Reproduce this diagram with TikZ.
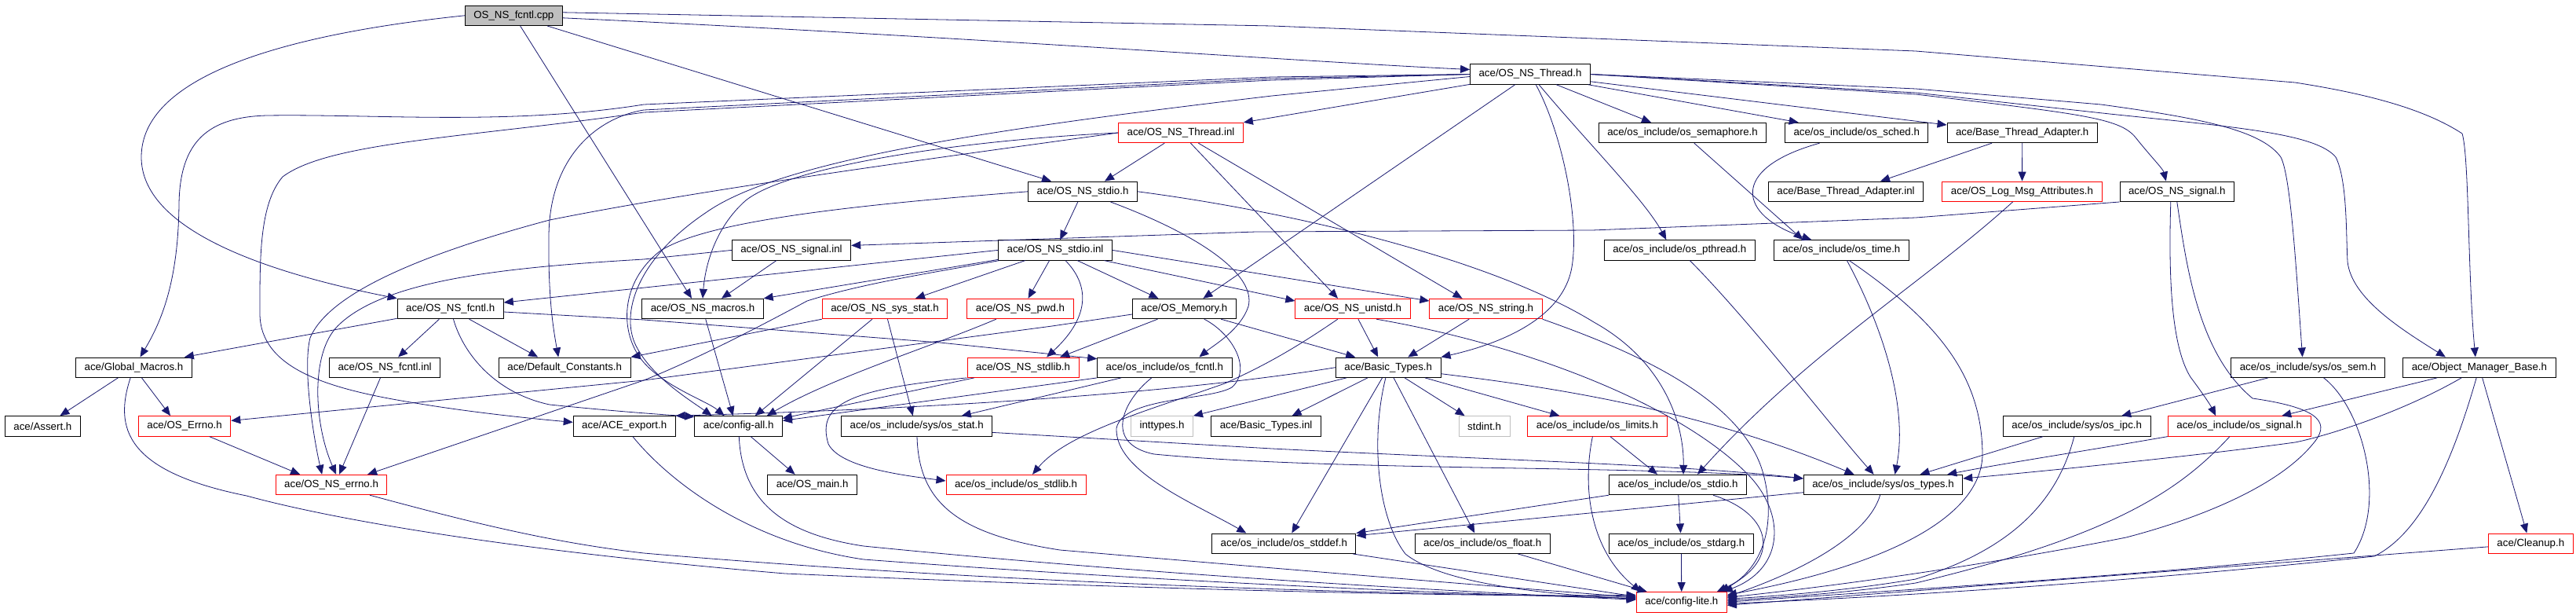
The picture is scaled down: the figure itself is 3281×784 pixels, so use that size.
\documentclass[tikz,border=0pt]{standalone}
\usepackage{fontspec}
\setmainfont{Liberation Sans}
\usetikzlibrary{arrows.meta}
\definecolor{depc}{HTML}{191970}
\definecolor{redc}{HTML}{FF0000}
\definecolor{grayc}{HTML}{BFBFBF}
\begin{document}
\begin{tikzpicture}[x=1pt,y=-1pt,
  nbox/.style={draw=black, line width=1pt, rectangle, minimum height=25.4pt, inner xsep=11pt, inner ysep=0pt, fill=white, font=\fontsize{13.3}{15}\selectfont},
  rbox/.style={nbox, draw=redc},
  gbox/.style={nbox, draw=grayc},
  dep/.style={draw=depc, line width=0.8pt, -{Triangle[length=12pt,width=10pt]}}]
\fill[white] (0,0) rectangle (3281,784);
\useasboundingbox (0,0) rectangle (3281,784);
% row 1
\node[nbox, fill=grayc] (cpp) at (654.3,19.8) {OS\_NS\_fcntl.cpp};
% row 2
\node[nbox] (thr) at (1949,94.5) {ace/OS\_NS\_Thread.h};
% row 3
\node[rbox] (thrinl) at (1504,169) {ace/OS\_NS\_Thread.inl};
\node[nbox] (sem) at (2143,169) {ace/os\_include/os\_semaphore.h};
\node[nbox] (sched) at (2364.7,169) {ace/os\_include/os\_sched.h};
\node[nbox] (bta) at (2575.7,169) {ace/Base\_Thread\_Adapter.h};
% row 4
\node[nbox] (stdioh) at (1379,243.8) {ace/OS\_NS\_stdio.h};
\node[nbox] (btainl) at (2351,243.8) {ace/Base\_Thread\_Adapter.inl};
\node[rbox] (logmsg) at (2575.5,243.8) {ace/OS\_Log\_Msg\_Attributes.h};
\node[nbox] (sigh) at (2772.8,243.8) {ace/OS\_NS\_signal.h};
% row 5
\node[nbox] (siginl) at (1008,318.4) {ace/OS\_NS\_signal.inl};
\node[nbox] (stdioinl) at (1344,318.4) {ace/OS\_NS\_stdio.inl};
\node[nbox] (pthread) at (2139.3,318.4) {ace/os\_include/os\_pthread.h};
\node[nbox] (ostime) at (2345.3,318.4) {ace/os\_include/os\_time.h};
% row 6
\node[nbox] (fcntlh) at (573.7,393) {ace/OS\_NS\_fcntl.h};
\node[nbox] (macros) at (895,393) {ace/OS\_NS\_macros.h};
\node[rbox] (sysstat) at (1127,393) {ace/OS\_NS\_sys\_stat.h};
\node[rbox] (pwd) at (1299.5,393) {ace/OS\_NS\_pwd.h};
\node[nbox] (memory) at (1508.4,393) {ace/OS\_Memory.h};
\node[rbox] (unistd) at (1723,393) {ace/OS\_NS\_unistd.h};
\node[rbox] (string) at (1892.5,393) {ace/OS\_NS\_string.h};
% row 7
\node[nbox] (gmacros) at (170.5,467.7) {ace/Global\_Macros.h};
\node[nbox] (fcntlinl) at (490.1,467.7) {ace/OS\_NS\_fcntl.inl};
\node[nbox] (defconst) at (719.2,467.7) {ace/Default\_Constants.h};
\node[rbox] (stdlibh) at (1303.1,467.7) {ace/OS\_NS\_stdlib.h};
\node[nbox] (osfcntl) at (1483.4,467.7) {ace/os\_include/os\_fcntl.h};
\node[nbox] (btypes) at (1768.2,467.7) {ace/Basic\_Types.h};
\node[nbox] (syssem) at (2939.6,467.7) {ace/os\_include/sys/os\_sem.h};
\node[nbox] (omb) at (3157.9,467.7) {ace/Object\_Manager\_Base.h};
% row 8
\node[nbox] (assert) at (54.4,542.4) {ace/Assert.h};
\node[rbox] (oserrno) at (235.1,542.4) {ace/OS\_Errno.h};
\node[nbox] (aceexport) at (795.2,542.4) {ace/ACE\_export.h};
\node[nbox] (configall) at (940.7,542.4) {ace/config-all.h};
\node[nbox] (sysosstat) at (1167.7,542.4) {ace/os\_include/sys/os\_stat.h};
\node[gbox] (inttypes) at (1480,542.4) {inttypes.h};
\node[nbox] (btinl) at (1612.6,542.4) {ace/Basic\_Types.inl};
\node[gbox] (stdint) at (1890.6,542.4) {stdint.h};
\node[rbox] (limits) at (2034.4,542.4) {ace/os\_include/os\_limits.h};
\node[nbox] (sysipc) at (2645.2,542.4) {ace/os\_include/sys/os\_ipc.h};
\node[rbox] (ossignal) at (2852.2,542.4) {ace/os\_include/os\_signal.h};
% row 9
\node[rbox] (nserrno) at (422.1,617) {ace/OS\_NS\_errno.h};
\node[nbox] (osmain) at (1034.6,617) {ace/OS\_main.h};
\node[rbox] (osstdlib) at (1294,617) {ace/os\_include/os\_stdlib.h};
\node[nbox] (osstdio) at (2137,617) {ace/os\_include/os\_stdio.h};
\node[nbox] (systypes) at (2398.5,617) {ace/os\_include/sys/os\_types.h};
% row 10
\node[nbox] (stddef) at (1635.3,691.7) {ace/os\_include/os\_stddef.h};
\node[nbox] (float) at (1888.2,691.7) {ace/os\_include/os\_float.h};
\node[nbox] (stdarg) at (2141.3,691.7) {ace/os\_include/os\_stdarg.h};
\node[rbox] (cleanup) at (3223.3,691.7) {ace/Cleanup.h};
% row 11
\node[rbox] (clite) at (2141.8,766.3) {ace/config-lite.h};

% ---- edges from OS_NS_fcntl.cpp
\draw[dep] (cpp.west) .. controls (350,45) and (180,100) .. (180,200) .. controls (180,290) and (330,345) .. (fcntlh.north west);
\draw[dep] ([yshift=-3pt]cpp.east) .. controls (1200,45) and (1650,78) .. ([yshift=6pt]thr.west);
\draw[dep] ([yshift=4pt]cpp.east) -- (1620,33) -- (2440,65) -- (2923,105) .. controls (3020,120) and (3090,140) .. (3136,170) .. controls (3145,200) and (3143,350) .. ([xshift=-5pt]omb.north);
\draw[dep] (cpp) -- ([xshift=-40pt]stdioh.north);
\draw[dep] (cpp) -- ([xshift=-14pt]macros.north);

% ---- edges from OS_NS_Thread.h
\draw[dep] (thr.west) -- (1620,98) -- (820,133) .. controls (650,160) and (480,145) .. (340,147) .. controls (265,149) and (229,180) .. (228,260) .. controls (227,360) and (205,410) .. ([xshift=8pt]gmacros.north);
\draw[dep] (thr.west) -- (1620,100) -- (820,140) .. controls (760,150) and (700,200) .. (699,300) .. controls (698,380) and (705,420) .. ([xshift=-8pt]defconst.north);
\draw[dep] (thr.west) -- (1620,102) -- (820,143) .. controls (600,175) and (420,180) .. (360,225) .. controls (330,260) and (331,330) .. (331,400) .. controls (332,470) and (420,495) .. (523,512) .. controls (600,525) and (680,533) .. ([yshift=5pt]aceexport.west);
\draw[dep] ([yshift=-3pt]thr.west) -- (1620,122) .. controls (1300,160) and (1000,200) .. (900,270) .. controls (810,330) and (790,400) .. (810,440) .. controls (830,480) and (880,510) .. ([xshift=-34pt]configall.north);
\draw[dep] (thr) -- (thrinl.north east);
\draw[dep] (thr) -- ([xshift=24pt]memory.north);
\draw[dep] (thr) .. controls (1990,170) and (2012,280) .. (2002,340) .. controls (1990,410) and (1900,440) .. (btypes.north east);
\draw[dep] (thr) .. controls (2025,185) and (2095,255) .. ([xshift=-17pt]pthread.north);
\draw[dep] (thr) -- ([xshift=-40pt]sem.north);
\draw[dep] (thr) -- ([xshift=-74pt]sched.north);
\draw[dep] (thr) -- ([yshift=10pt]bta.west);
\draw[dep] (thr.east) -- (2440,120) .. controls (2650,145) and (2700,150) .. (2720,175) .. controls (2740,200) and (2755,215) .. ([xshift=-14pt]sigh.north);
\draw[dep] (thr.east) -- (2440,113) -- (2676,133) .. controls (2800,150) and (2880,165) .. (2905,200) .. controls (2918,225) and (2925,350) .. ([xshift=-7pt]syssem.north);
\draw[dep] (thr.east) -- (2440,118) -- (2687,145) .. controls (2850,162) and (2950,170) .. (2975,200) .. controls (2990,230) and (2988,300) .. (2990,333) .. controls (2995,380) and (3060,420) .. ([xshift=-43pt]omb.north);

% ---- edges from OS_NS_Thread.inl
\draw[dep] (thrinl) -- ([xshift=28pt]stdioh.north);
\draw[dep] (thrinl) -- ([xshift=-19pt]unistd.north);
\draw[dep] (thrinl) -- ([xshift=-30pt]string.north);
\draw[dep] (thrinl.west) .. controls (1200,200) and (900,240) .. (700,280) .. controls (550,320) and (420,370) .. (395,430) .. controls (385,470) and (400,560) .. ([xshift=-12pt]nserrno.north);
\draw[dep] (thrinl.west) .. controls (1200,180) and (1000,215) .. (950,255) .. controls (910,290) and (898,340) .. (macros.north);

% ---- edges from OS_NS_stdio.h
\draw[dep] (stdioh) -- (stdioinl);
\draw[dep] (stdioh.east) .. controls (1650,270) and (1900,330) .. (2030,410) .. controls (2120,460) and (2145,540) .. ([xshift=7pt]osstdio.north);
\draw[dep] (stdioh) .. controls (1530,300) and (1600,350) .. (1590,390) .. controls (1580,420) and (1545,440) .. ([xshift=44pt]osfcntl.north);
\draw[dep] (stdioh.west) .. controls (1100,260) and (900,280) .. (840,320) .. controls (790,360) and (790,420) .. (815,455) .. controls (840,490) and (900,510) .. ([xshift=-18pt]configall.north);

% ---- edges from OS_NS_stdio.inl
\draw[dep] (stdioinl.west) -- ([yshift=8pt]fcntlh.east);
\draw[dep] (stdioinl) -- (macros.north east);
\draw[dep] (stdioinl) -- ([xshift=39pt]sysstat.north);
\draw[dep] (stdioinl) -- ([xshift=10pt]pwd.north);
\draw[dep] (stdioinl) .. controls (1385,360) and (1392,400) .. ([xshift=30pt]stdlibh.north);
\draw[dep] (stdioinl) -- ([xshift=-33pt]memory.north);
\draw[dep] (stdioinl) -- ([yshift=10pt]unistd.west);
\draw[dep] (stdioinl.east) -- ([yshift=10pt]string.west);
\draw[dep] (stdioinl) .. controls (1200,345) and (1100,360) .. (1028,383) .. controls (950,425) and (880,460) .. (820,484) -- ([xshift=46pt]nserrno.north);

% ---- edges from OS_NS_signal.inl / OS_NS_signal.h
\draw[dep] (siginl) -- ([xshift=24pt]macros.north);
\draw[dep] (siginl.west) -- (820,330) .. controls (650,340) and (490,355) .. (430,415) .. controls (395,450) and (400,540) .. ([xshift=6pt]nserrno.north);
\draw[dep] (sigh.south west) -- (2440,277) -- (2028,293) -- (1600,295) -- ([yshift=6pt]siginl.east);
\draw[dep] ([xshift=-8pt]sigh.south) .. controls (2762,350) and (2765,440) .. (2790,480) .. controls (2805,500) and (2815,515) .. ([xshift=-30pt]ossignal.north);
\draw[dep] (sigh.south) .. controls (2785,340) and (2800,450) .. (2869,507) .. controls (2960,520) and (2968,540) .. (2945,566) .. controls (2900,620) and (2800,660) .. (2708,684) .. controls (2500,725) and (2300,750) .. ([yshift=6pt]clite.east);

% ---- edges from OS_Memory.h
\draw[dep] ([yshift=-7pt]memory.west) -- (1340,415) -- (820,484) -- ([yshift=7pt]oserrno.east);
\draw[dep] (memory) -- ([xshift=47pt]stdlibh.north);
\draw[dep] (memory) -- ([xshift=-42pt]btypes.north);
\draw[dep] (memory) .. controls (1570,425) and (1595,470) .. (1569,493) .. controls (1540,510) and (1430,505) .. (1422,545) .. controls (1420,600) and (1520,640) .. ([xshift=-48pt]stddef.north);

% ---- OS_NS_stdlib.h, sys_stat, pwd, macros
\draw[dep] (stdlibh) -- ([yshift=10pt]configall.east);
\draw[dep] (stdlibh.south west) .. controls (1080,495) and (1040,515) .. (1055,565) .. controls (1070,595) and (1150,605) .. ([yshift=5pt]osstdlib.west);
\draw[dep] (sysstat) -- ([xshift=21pt]configall.north);
\draw[dep] (sysstat) -- ([xshift=-5pt]sysosstat.north);
\draw[dep] (sysstat.south west) -- (defconst.north east);
\draw[dep] (pwd) .. controls (1190,440) and (1060,480) .. ([xshift=36pt]configall.north);
\draw[dep] (macros) -- ([xshift=-7pt]configall.north);

% ---- OS_NS_fcntl.h
\draw[dep] (fcntlh) -- ([xshift=-10pt]gmacros.north east);
\draw[dep] (fcntlh) -- ([xshift=17pt]fcntlinl.north);
\draw[dep] (fcntlh) -- ([xshift=-34pt]defconst.north);
\draw[dep] (fcntlh) .. controls (590,450) and (630,500) .. (700,515) .. controls (800,525) and (850,528) .. ([yshift=12pt]configall.west);
\draw[dep] ([yshift=-4pt]fcntlh.east) -- (820,407) -- (1197,436) -- ([yshift=11pt]osfcntl.west);

% ---- left part
\draw[dep] (gmacros) -- ([xshift=22pt]assert.north);
\draw[dep] (gmacros) -- ([xshift=-18pt]oserrno.north);
\draw[dep] (gmacros) .. controls (145,545) and (160,600) .. (314,631) .. controls (450,668) and (700,705) .. (1000,730) .. controls (1500,752) and (1900,760) .. ([yshift=9pt]clite.west);
\draw[dep] (oserrno) -- ([xshift=-40pt]nserrno.north);
\draw[dep] (fcntlinl) -- ([xshift=10pt]nserrno.north);
\draw[dep] (nserrno) .. controls (600,665) and (700,690) .. (820,704) .. controls (1300,745) and (1800,757) .. ([yshift=7pt]clite.west);
\draw[dep] (aceexport) .. controls (850,610) and (950,690) .. (1100,712) .. controls (1500,742) and (1900,758) .. ([yshift=5pt]clite.west);
\draw[dep] (configall) -- ([xshift=-22pt]osmain.north);
\draw[dep] (configall) .. controls (945,640) and (1000,680) .. (1100,695) .. controls (1500,735) and (1900,755) .. ([yshift=3pt]clite.west);

% ---- os_include/sys/os_stat.h, os_fcntl.h
\draw[dep] ([yshift=-8pt]sysosstat.east) -- (1620,571) .. controls (1900,585) and (2150,592) .. ([yshift=8pt]systypes.west);
\draw[dep] (sysosstat) .. controls (1170,640) and (1220,680) .. (1350,700) .. controls (1700,730) and (1950,750) .. ([yshift=6pt]clite.west);
\draw[dep] (osfcntl.south west) -- ([yshift=7pt]configall.east);
\draw[dep] (osfcntl) -- ([xshift=57pt]sysosstat.north);
\draw[dep] (osfcntl) .. controls (1430,510) and (1405,565) .. (1470,578) .. controls (1700,600) and (2100,592) .. ([yshift=8pt]systypes.west);

% ---- OS_NS_unistd.h, OS_NS_string.h
\draw[dep] (unistd) -- ([xshift=-13pt]btypes.north);
\draw[dep] (unistd) .. controls (1640,450) and (1600,470) .. (1560,488) .. controls (1470,520) and (1360,550) .. ([xshift=21pt]osstdlib.north);
\draw[dep] ([xshift=30pt]unistd.south) .. controls (1950,440) and (2150,520) .. (2232,610) .. controls (2275,660) and (2270,725) .. ([xshift=53pt]clite.north);
\draw[dep] (string) -- ([xshift=25pt]btypes.north);
\draw[dep] (string.south east) .. controls (2060,440) and (2215,500) .. (2245,600) .. controls (2262,660) and (2250,720) .. ([xshift=49pt]clite.north);

% ---- Basic_Types.h
\draw[dep] (btypes) -- ([xshift=33pt]btinl.north);
\draw[dep] (btypes) -- (inttypes.north east);
\draw[dep] (btypes.west) .. controls (1500,500) and (1200,520) .. (aceexport.north east);
\draw[dep] (btypes) -- ([xshift=-25pt]stdint.north);
\draw[dep] (btypes) -- ([xshift=-48pt]limits.north);
\draw[dep] ([yshift=-8pt]btypes.east) .. controls (1950,490) and (2150,515) .. ([xshift=-37pt]systypes.north);
\draw[dep] (btypes) -- ([xshift=10pt]stddef.north);
\draw[dep] (btypes) -- ([xshift=-10pt]float.north);
\draw[dep] (btypes) .. controls (1745,560) and (1755,660) .. (1790,705) .. controls (1840,745) and (1980,757) .. ([yshift=4pt]clite.west);

% ---- os_limits, os_stdio, os_types, row 10
\draw[dep] (limits) -- ([xshift=-26pt]osstdio.north);
\draw[dep] ([xshift=-6pt]limits.south) .. controls (2015,620) and (2025,700) .. ([xshift=-52pt]clite.north);
\draw[dep] (float) -- ([xshift=-44pt]clite.north);
\draw[dep] (stddef) -- ([yshift=7pt]clite.west);
\draw[dep] (osstdio.south west) -- (stddef.north east);
\draw[dep] (osstdio) -- (stdarg);
\draw[dep] ([xshift=45pt]osstdio.south) .. controls (2260,655) and (2268,715) .. ([xshift=45pt]clite.north);
\draw[dep] (systypes) -- ([yshift=10pt]stddef.east);
\draw[dep] (systypes) .. controls (2380,680) and (2300,725) .. ([yshift=7pt]clite.east);
\draw[dep] (stdarg) -- (clite);

% ---- right part
\draw[dep] (sysipc) .. controls (2620,640) and (2560,700) .. (2440,737) .. controls (2350,752) and (2270,758) .. ([yshift=4pt]clite.east);
\draw[dep] (ossignal) .. controls (2780,620) and (2700,680) .. (2440,742) .. controls (2350,755) and (2270,760) .. ([yshift=2pt]clite.east);
\draw[dep] ([xshift=20pt]syssem.south) .. controls (3010,520) and (3040,640) .. (2998,704) .. controls (2700,735) and (2400,752) .. (clite.east);
\draw[dep] (omb) .. controls (3120,600) and (3080,680) .. (3024,708) .. controls (2700,742) and (2400,760) .. ([yshift=-2pt]clite.east);
\draw[dep] (cleanup) -- ([yshift=-4pt]clite.east);
\draw[dep] ([xshift=10pt]ostime.south) .. controls (2470,410) and (2525,480) .. (2525,580) .. controls (2522,660) and (2400,720) .. ([yshift=9pt]clite.east);
\draw[dep] (sysipc) -- ([xshift=47pt]systypes.north);
\draw[dep] (ossignal.south west) .. controls (2650,575) and (2550,590) .. ([xshift=-20pt]systypes.north east);
\draw[dep] (omb) .. controls (3050,530) and (2950,558) .. (2923,563) .. controls (2800,580) and (2600,600) .. ([yshift=8pt]systypes.east);
\draw[dep] (omb) -- ([xshift=54pt]ossignal.north);
\draw[dep] (omb) -- ([xshift=-5pt]cleanup.north);
\draw[dep] (syssem) -- ([xshift=57pt]sysipc.north);
\draw[dep] (pthread) .. controls (2230,410) and (2330,540) .. ([xshift=-12pt]systypes.north);
\draw[dep] (ostime) .. controls (2400,420) and (2430,520) .. ([xshift=15pt]systypes.north);
\draw[dep] (sem) -- ([xshift=-49pt]ostime.north);
\draw[dep] (sched) .. controls (2200,215) and (2215,275) .. ([xshift=-38pt]ostime.north);
\draw[dep] (bta) -- ([xshift=44pt]btainl.north);
\draw[dep] (bta) -- (logmsg);
\draw[dep] ([xshift=-12pt]logmsg.south) .. controls (2450,360) and (2300,450) .. ([xshift=25pt]osstdio.north);
\end{tikzpicture}
\end{document}
